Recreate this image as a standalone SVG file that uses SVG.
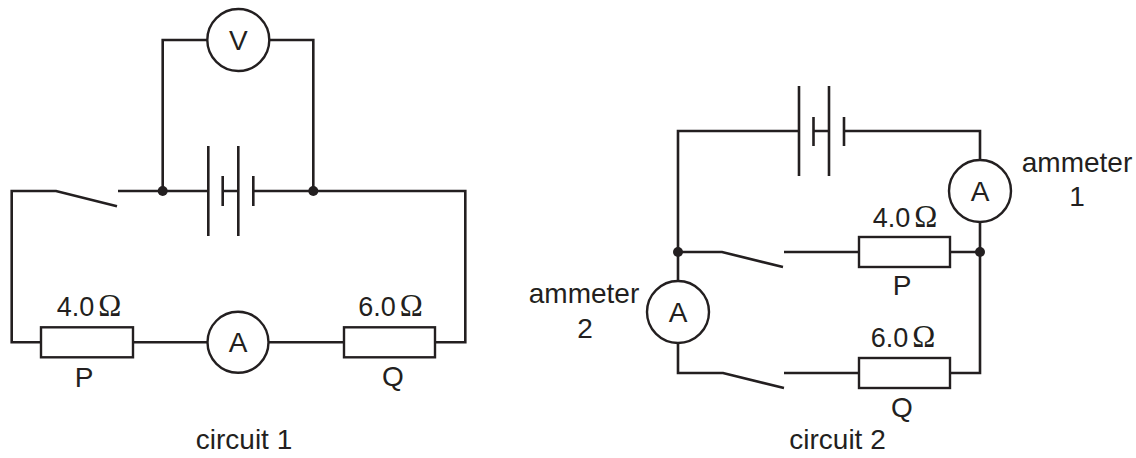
<svg xmlns="http://www.w3.org/2000/svg" width="1136" height="458" viewBox="0 0 1136 458">
<style>
.w{fill:none;stroke:#231f20;stroke-width:2.6;stroke-linecap:butt;stroke-linejoin:miter}
.c{fill:#fff;stroke:#231f20;stroke-width:2.4}
.r{fill:#fff;stroke:#231f20;stroke-width:2.4}
.d{fill:#231f20}
.t{font-family:"Liberation Sans",Arial,sans-serif;font-size:28px;fill:#231f20;text-anchor:middle}
.o{font-family:"Liberation Serif","Times New Roman",serif;font-size:31px}
</style>
<rect width="1136" height="458" fill="#fff"/>
<g id="connectors">
<path class="w" d="M118,191 H208.3 M222.7,191 H238.3 M253.3,191 H465.3 V342.3 H435 M344,342.3 H268.5 M207.5,342.3 H133 M41,342.3 H11.7 V191 H56 L117,206.3"/>
<path class="w" d="M162.7,191 V40 H207.3 M269.3,40 H313.3 V191"/>
<path class="w" d="M208.3,146 V236 M222.7,176 V206 M238.3,146 V236 M253.3,176 V206"/>
<path class="w" d="M799,131 H678 V281 M678,343 V373 H723 L784,388 M784,373 H859 M950,373 H980 V222 M980,160 V131 H844 M813.5,131 H829"/>
<path class="w" d="M678,252 H722 L783,267 M784,252 H859 M950,252 H980"/>
<path class="w" d="M799,86 V176 M813.5,117 V146 M829,86 V176 M844,117 V146"/>
</g>
<g id="junctions">
<circle class="d" cx="162.7" cy="191" r="5"/>
<circle class="d" cx="313.3" cy="191" r="5"/>
<circle class="d" cx="678" cy="252" r="5"/>
<circle class="d" cx="980" cy="252" r="5"/>
</g>
<g id="voltmeter">
<circle class="c" cx="238.3" cy="40" r="31"/>
<text class="t" x="238.3" y="50">V</text>
</g>
<g id="ammeter-c1">
<circle class="c" cx="238" cy="342.3" r="30.5"/>
<text class="t" x="238" y="352">A</text>
</g>
<g id="resistor-P1">
<rect class="r" x="41" y="327.3" width="92" height="30"/>
<text class="t" x="89" y="316" style="font-size:27px">4.0<tspan class="o" dx="4">Ω</tspan></text>
<text class="t" x="84" y="386.5">P</text>
</g>
<g id="resistor-Q1">
<rect class="r" x="344" y="327.3" width="91" height="30"/>
<text class="t" x="390.5" y="316" style="font-size:27px">6.0<tspan class="o" dx="4">Ω</tspan></text>
<text class="t" x="393" y="386">Q</text>
</g>
<g id="label-c1">
<text class="t" x="244" y="449">circuit 1</text>
</g>
<g id="ammeter1">
<circle class="c" cx="980" cy="191" r="31"/>
<text class="t" x="980" y="201">A</text>
<text class="t" x="1077" y="172">ammeter</text>
<text class="t" x="1077" y="206">1</text>
</g>
<g id="ammeter2">
<circle class="c" cx="678" cy="312" r="31"/>
<text class="t" x="678" y="322">A</text>
<text class="t" x="584" y="303">ammeter</text>
<text class="t" x="585" y="338">2</text>
</g>
<g id="resistor-P2">
<rect class="r" x="859" y="237" width="91" height="30"/>
<text class="t" x="905" y="227" style="font-size:27px">4.0<tspan class="o" dx="4">Ω</tspan></text>
<text class="t" x="902" y="295">P</text>
</g>
<g id="resistor-Q2">
<rect class="r" x="859" y="358" width="91" height="30"/>
<text class="t" x="903" y="347" style="font-size:27px">6.0<tspan class="o" dx="4">Ω</tspan></text>
<text class="t" x="902" y="417">Q</text>
</g>
<g id="label-c2">
<text class="t" x="837.5" y="449">circuit 2</text>
</g>
</svg>
